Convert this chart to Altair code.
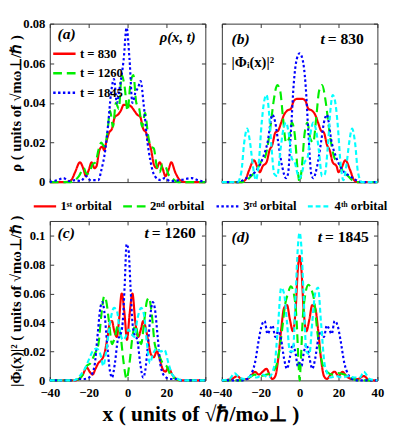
import altair as alt
import pandas as pd

FONT = "Liberation Serif"

# ---------------- panel (a): density rho(x,t) ----------------
a830_x = [-40, -32, -29, -27, -24.5, -22.5, -21.5, -20, -18.5, -17, -16, -14.5, -13, -12, -11, -9.5, -8, -6.5, -5, -3.5, -2, 0, 2, 3.5, 5, 6.5, 8, 9.5, 11, 12, 13.5, 15, 16.5, 18, 19.5, 21, 22.5, 24.5, 27, 30, 40]
a830_y = [0, 0, 0.001, 0.005, 0.010, 0.006, 0.003, 0.006, 0.010, 0.007, 0.008, 0.016, 0.018, 0.016, 0.020, 0.025, 0.027, 0.033, 0.034, 0.036, 0.039, 0.039, 0.038, 0.036, 0.034, 0.033, 0.027, 0.025, 0.020, 0.017, 0.009, 0.007, 0.010, 0.007, 0.003, 0.006, 0.010, 0.005, 0.001, 0, 0]
a1260_x = [-40, -30, -27, -25, -22.5, -21, -19.5, -18, -16.5, -15, -13.5, -12, -10.5, -9, -7.5, -6, -4.5, -3, -1.5, 0, 1.5, 3, 4.5, 6, 7.5, 9, 10.5, 12, 13.5, 15, 16.5, 18, 19.5, 21, 23, 26, 40]
a1260_y = [0, 0, 0.001, 0.003, 0.007, 0.004, 0.005, 0.009, 0.010, 0.016, 0.020, 0.018, 0.024, 0.036, 0.028, 0.040, 0.037, 0.054, 0.048, 0.036, 0.050, 0.054, 0.040, 0.037, 0.028, 0.035, 0.024, 0.018, 0.017, 0.008, 0.005, 0.009, 0.008, 0.004, 0.002, 0, 0]
a1845_x = [-40, -36, -33, -30, -27, -24, -21.5, -19, -15, -13.5, -11.5, -10, -8.5, -7, -5.5, -4, -2, -0.5, 1, 2.5, 4, 5.5, 6.7, 8.3, 10, 11.7, 14, 17, 19, 22, 27, 33, 36, 40]
a1845_y = [0, 0.001, 0.002, 0.0005, 0.001, 0.0005, 0.003, 0.001, 0.001, 0.006, 0.016, 0.029, 0.045, 0.052, 0.040, 0.048, 0.062, 0.078, 0.062, 0.040, 0.045, 0.048, 0.051, 0.039, 0.022, 0.011, 0.003, 0.001, 0.002, 0.0005, 0.001, 0.002, 0.001, 0]

# ---------------- panel (b): orbitals, t = 830 ----------------
b1_x = [-40, -30, -28, -26, -23.5, -21.5, -20.5, -19, -17, -15.5, -14, -12.5, -11, -9.5, -8, -6.5, -4.5, -3, -1.5, 0, 1.5, 3, 4.5, 6.5, 8, 9.5, 11, 12.5, 14, 15.5, 17, 19, 20, 21.5, 23.5, 26, 28, 30, 40]
b1_y = [0, 0, 0.001, 0.006, 0.011, 0.007, 0.005, 0.008, 0.010, 0.016, 0.019, 0.025, 0.026, 0.030, 0.034, 0.036, 0.037, 0.041, 0.042, 0.042, 0.042, 0.041, 0.037, 0.036, 0.034, 0.030, 0.026, 0.025, 0.019, 0.016, 0.010, 0.008, 0.005, 0.007, 0.011, 0.006, 0.001, 0, 0]
b2_x = [-40, -30, -27, -25, -22, -20, -18, -16.5, -15, -13.5, -11.5, -10, -8.5, -7, -5.5, -4, -2.5, -1, 0, 1, 2.5, 4, 5.5, 7, 8.5, 10, 11.5, 13.5, 15, 16.5, 18, 20, 22, 25, 27, 30, 40]
b2_y = [0, 0, 0.001, 0.003, 0.006, 0.010, 0.012, 0.018, 0.028, 0.040, 0.049, 0.046, 0.032, 0.020, 0.022, 0.030, 0.024, 0.006, 0, 0.006, 0.024, 0.030, 0.022, 0.020, 0.032, 0.046, 0.049, 0.040, 0.028, 0.018, 0.012, 0.010, 0.006, 0.003, 0.001, 0, 0]
b3_x = [-40, -32, -29, -26, -23, -19, -16.5, -14, -12.5, -11, -9, -7, -6, -4.5, -3, -1.5, 0, 1.5, 3, 4.5, 6, 7, 9, 11, 12.5, 14, 16.5, 19, 23, 26, 29, 32, 40]
b3_y = [0, 0, 0.001, 0.003, 0.005, 0.012, 0.020, 0.034, 0.030, 0.020, 0.008, 0.002, 0.004, 0.025, 0.050, 0.062, 0.065, 0.062, 0.050, 0.025, 0.004, 0.002, 0.008, 0.020, 0.030, 0.034, 0.020, 0.012, 0.005, 0.003, 0.001, 0, 0]
b4_x = [-40, -32, -30, -28.5, -27, -25.5, -24, -22.5, -21, -19.5, -18, -17, -16, -14.5, -13, -11.5, -10, -8.5, -7, -5.5, -4, -2.5, -1, 0, 1, 2.5, 4, 5.5, 7, 8.5, 10, 11.5, 13, 14.5, 16, 17, 18, 19.5, 21, 22.5, 24, 25.5, 27, 28.5, 30, 32, 40]
b4_y = [0, 0, 0.005, 0.020, 0.027, 0.020, 0.008, 0.001, 0.010, 0.030, 0.042, 0.044, 0.038, 0.018, 0.004, 0.003, 0.015, 0.026, 0.030, 0.024, 0.012, 0.010, 0.004, 0.002, 0.004, 0.010, 0.012, 0.024, 0.030, 0.026, 0.015, 0.003, 0.004, 0.018, 0.038, 0.044, 0.042, 0.030, 0.010, 0.001, 0.008, 0.020, 0.027, 0.020, 0.005, 0, 0]

# ---------------- panel (c): orbitals, t = 1260 ----------------
c1_x = [-40, -27, -25, -23, -21, -19.5, -18, -16.5, -15, -13.5, -12, -10.5, -9, -8, -7, -5.5, -4.5, -3, -1.5, -0.3, 1, 2.5, 4, 5.5, 7, 8, 9, 10.5, 12, 13.5, 15, 16.5, 18, 19.5, 21, 23, 25, 27, 40]
c1_y = [0, 0, 0.001, 0.004, 0.009, 0.006, 0.004, 0.008, 0.012, 0.014, 0.018, 0.028, 0.040, 0.041, 0.035, 0.030, 0.040, 0.060, 0.045, 0.028, 0.045, 0.060, 0.040, 0.030, 0.036, 0.041, 0.038, 0.028, 0.018, 0.016, 0.020, 0.015, 0.008, 0.006, 0.009, 0.004, 0.001, 0, 0]
c2_x = [-40, -28, -25, -23, -21, -19, -17, -15, -13.5, -12, -11, -9.5, -8, -6.5, -5, -3.5, -2, -0.5, 1, 2.5, 4, 5.5, 7, 8.5, 10, 11, 12.5, 14, 16, 18, 20, 22, 25, 28, 40]
c2_y = [0, 0, 0.001, 0.004, 0.010, 0.012, 0.018, 0.025, 0.045, 0.058, 0.055, 0.040, 0.025, 0.030, 0.038, 0.030, 0.012, 0.001, 0.012, 0.030, 0.038, 0.030, 0.025, 0.040, 0.055, 0.057, 0.045, 0.025, 0.018, 0.012, 0.010, 0.004, 0.001, 0, 0]
c3_x = [-40, -28, -25, -22, -19, -17, -15.5, -14, -13, -12, -10.5, -9, -8, -6.5, -5, -3.5, -2.5, -1.5, -0.5, 0.5, 1.5, 2.5, 3.5, 5, 6.5, 8, 9, 10.5, 12, 13, 14, 15.5, 17, 19, 22, 25, 28, 40]
c3_y = [0, 0, 0.001, 0.001, 0.003, 0.010, 0.030, 0.050, 0.054, 0.048, 0.025, 0.006, 0.002, 0.012, 0.028, 0.032, 0.040, 0.065, 0.094, 0.090, 0.065, 0.040, 0.032, 0.028, 0.012, 0.002, 0.006, 0.025, 0.048, 0.054, 0.050, 0.030, 0.010, 0.003, 0.001, 0.001, 0, 0]
c4_x = [-40, -28, -26, -24, -22, -20, -18, -16, -14, -12.5, -11, -9, -7, -5.5, -4, -2.5, -1, 0.5, 2, 3.5, 5, 7, 8.5, 10, 11.5, 13, 15, 17, 19, 21, 23, 26, 28, 40]
c4_y = [0, 0, 0.001, 0.004, 0.008, 0.014, 0.020, 0.022, 0.018, 0.010, 0.020, 0.040, 0.050, 0.048, 0.035, 0.028, 0.030, 0.035, 0.032, 0.030, 0.042, 0.050, 0.045, 0.025, 0.012, 0.018, 0.022, 0.020, 0.021, 0.012, 0.004, 0.001, 0, 0]

# ---------------- panel (d): orbitals, t = 1845 ----------------
d1_x = [-40, -35, -32, -30, -27, -25, -23, -21, -19, -17, -15.5, -14, -12.5, -11, -9.5, -8, -6.5, -5, -3.5, -2, -1, 0, 1, 2, 3.5, 5, 6.5, 8, 9.5, 11, 12.5, 14, 16, 18, 20, 22, 24, 27, 30, 33, 36, 40]
d1_y = [0, 0.001, 0.003, 0.001, 0.001, 0.003, 0.006, 0.004, 0.006, 0.008, 0.004, 0.001, 0.003, 0.015, 0.035, 0.050, 0.052, 0.042, 0.034, 0.050, 0.075, 0.086, 0.075, 0.050, 0.034, 0.042, 0.052, 0.050, 0.035, 0.015, 0.003, 0.001, 0.004, 0.006, 0.003, 0.006, 0.003, 0.001, 0.001, 0.003, 0, 0]
d2_x = [-40, -30, -26, -23, -20, -17, -14, -12, -10.5, -9, -7.5, -6, -4.5, -3, -1.5, -0.5, 0, 0.5, 1.5, 3, 4.5, 6, 7.5, 9, 10.5, 12, 14, 17, 20, 23, 26, 30, 40]
d2_y = [0, 0, 0.002, 0.004, 0.003, 0.004, 0.006, 0.010, 0.020, 0.035, 0.052, 0.060, 0.065, 0.060, 0.040, 0.010, 0, 0.010, 0.040, 0.060, 0.066, 0.063, 0.055, 0.035, 0.020, 0.010, 0.006, 0.004, 0.005, 0.004, 0.002, 0, 0]
d3_x = [-40, -30, -27, -25, -23, -21, -19.5, -18, -16.5, -15, -14, -12.5, -11, -9.5, -8, -6.5, -5, -3.5, -2, -1, 0, 1, 2, 3.5, 5, 6.5, 8, 9.5, 11, 12.5, 14, 15, 16.5, 18, 19.5, 21, 23, 25, 27, 30, 40]
d3_y = [0, 0, 0.001, 0.004, 0.012, 0.028, 0.038, 0.041, 0.032, 0.036, 0.038, 0.030, 0.034, 0.028, 0.015, 0.008, 0.016, 0.025, 0.018, 0.010, 0.012, 0.010, 0.018, 0.025, 0.016, 0.008, 0.015, 0.028, 0.034, 0.030, 0.038, 0.036, 0.032, 0.041, 0.038, 0.028, 0.012, 0.004, 0.001, 0, 0]
d4_x = [-40, -36, -33.5, -31, -28, -25, -22, -19, -16, -13, -11, -9.5, -8, -6.5, -5, -3.5, -2, -1, 0, 1, 2, 3.5, 5, 6.5, 8, 9.5, 11, 13, 16, 19, 22, 25, 28, 31, 33, 36, 40]
d4_y = [0, 0.001, 0.005, 0.002, 0.001, 0.003, 0.002, 0.004, 0.002, 0.010, 0.040, 0.064, 0.060, 0.040, 0.020, 0.020, 0.060, 0.090, 0.102, 0.090, 0.060, 0.020, 0.018, 0.040, 0.060, 0.064, 0.040, 0.010, 0.002, 0.003, 0.002, 0.003, 0.002, 0.002, 0.006, 0.001, 0]

# ---------------- categories / labels ----------------
times = ["t = 830", "t = 1260", "t = 1845"]
orbitals = ["1ˢᵗ orbital", "2ⁿᵈ orbital", "3ʳᵈ orbital", "4ᵗʰ orbital"]
colors = ["#ff0000", "#00ee00", "#0000ff", "#00ffff"]
dashes = [[1, 0], [9, 5], [2.5, 2.5], [5, 3]]
x_ticks = [-40, -20, 0, 20, 40]
y_ticks_top = [0, 0.02, 0.04, 0.06, 0.08]
y_ticks_bot = [0, 0.02, 0.04, 0.06, 0.08, 0.1]

TICK = 4          # inward tick length
FRAME = "#333333"


def frame(series):
    rows = []
    for name, xs, ys in series:
        assert len(xs) == len(ys), name
        for x, y in zip(xs, ys):
            rows.append({"x": x, "y": y, "s": name})
    return pd.DataFrame(rows)


df_a = frame([(times[0], a830_x, a830_y), (times[1], a1260_x, a1260_y), (times[2], a1845_x, a1845_y)])
df_b = frame(list(zip(orbitals, [b1_x, b2_x, b3_x, b4_x], [b1_y, b2_y, b3_y, b4_y])))
df_c = frame(list(zip(orbitals, [c1_x, c2_x, c3_x, c4_x], [c1_y, c2_y, c3_y, c4_y])))
df_d = frame(list(zip(orbitals, [d1_x, d2_x, d3_x, d4_x], [d1_y, d2_y, d3_y, d4_y])))


def txt(text, x, y, size=14, italic=False, align="left"):
    return alt.Chart(pd.DataFrame({"t": [text]})).mark_text(
        align=align, baseline="middle", font=FONT, fontSize=size,
        fontWeight="bold", fontStyle="italic" if italic else "normal", color="black"
    ).encode(x=alt.value(x), y=alt.value(y), text="t:N")


def panel(df, domain, ydom, yvals, h, show_x, show_y, legend, ytitle=None, xtitle=None):
    # main axes: bottom / left, ticks pointing inward (axis shifted into the plot by TICK)
    xaxis_kw = dict(orient="bottom", values=x_ticks, labels=show_x, ticks=True, tickSize=TICK,
                    tickColor=FRAME, tickWidth=1, offset=-TICK, domain=False, grid=False,
                    labelFont=FONT, labelFontSize=13, labelFontWeight="bold", labelColor="black",
                    labelPadding=7, labelFlush=False)
    if xtitle:
        xaxis_kw.update(titleX=155, titleY=34 + TICK, titleAlign="center", titleBaseline="middle",
                        titleFont=FONT, titleFontSize=22, titleFontWeight="bold", titleColor="black")
    yaxis_kw = dict(orient="left", values=yvals, labels=show_y, ticks=True, tickSize=TICK,
                    tickColor=FRAME, tickWidth=1, offset=-TICK, domain=False, grid=False,
                    labelExpr="format(datum.value, '~g')",
                    labelFont=FONT, labelFontSize=13, labelFontWeight="bold", labelColor="black",
                    labelPadding=5, labelFlush=False)
    if ytitle:
        yaxis_kw.update(titleX=-35 - TICK, titleY=h / 2, titleAngle=270, titleAlign="center",
                        titleBaseline="middle", titleFont=FONT, titleFontSize=15,
                        titleFontWeight="bold", titleColor="black")
    n = len(domain)
    cscale = alt.Scale(domain=domain, range=colors[:n])
    dscale = alt.Scale(domain=domain, range=dashes[:n])
    xscale = alt.Scale(domain=[-40, 40], nice=False)
    yscale = alt.Scale(domain=ydom, nice=False, zero=True)
    lines = alt.Chart(df).mark_line(strokeWidth=2.2, interpolate="monotone", clip=False).encode(
        x=alt.X("x:Q", scale=xscale, axis=alt.Axis(**xaxis_kw), title=xtitle if xtitle else None),
        y=alt.Y("y:Q", scale=yscale, axis=alt.Axis(**yaxis_kw), title=ytitle if ytitle else None),
        color=alt.Color("s:N", scale=cscale, legend=legend),
        strokeDash=alt.StrokeDash("s:N", scale=dscale, legend=legend),
    )
    # top / right tick-only axes (inward ticks on the other two sides of the box)
    tick_only = dict(labels=False, ticks=True, tickSize=TICK, tickColor=FRAME, tickWidth=1,
                     offset=-TICK, domain=False, grid=False)
    mirror = alt.Chart(df).mark_point(opacity=0).encode(
        x=alt.X("x:Q", scale=xscale, axis=alt.Axis(orient="top", values=x_ticks, **tick_only), title=None),
        y=alt.Y("y:Q", scale=yscale, axis=alt.Axis(orient="right", values=yvals, **tick_only), title=None),
    )
    return lines, mirror


legend_a = alt.Legend(orient="none", legendX=2, legendY=18, direction="vertical", title=None,
                      symbolType="stroke", symbolSize=529, symbolStrokeWidth=2.5,
                      labelFont=FONT, labelFontSize=13, labelFontWeight="bold", labelColor="black",
                      labelOffset=3, rowPadding=0, padding=0)
legend_c = alt.Legend(orient="none", legendX=-18, legendY=-28, direction="horizontal", title=None,
                      symbolType="stroke", symbolSize=529, symbolStrokeWidth=2.5,
                      labelFont=FONT, labelFontSize=13, labelFontWeight="bold", labelColor="black",
                      labelOffset=3, columnPadding=6, padding=0)

W = 160
HT = 163
HB = 164


def build(parts, texts, h):
    lines, mirror = parts
    return alt.layer(lines, mirror, *texts).resolve_axis(
        x="independent", y="independent"
    ).properties(width=W, height=h)


pa = build(
    panel(df_a, times, [0, 0.08], y_ticks_top, HT, False, True, legend_a,
          ytitle="ρ ( units of √mω⊥/ℏ )"),
    [txt("(a)", 8, 11, 16, italic=True),
     txt("ρ(x, t)", 150, 14, 15, italic=True, align="right")],
    HT,
)

pb = build(
    panel(df_b, orbitals, [0, 0.08], y_ticks_top, HT, False, False, None),
    [txt("(b)", 10, 16, 16, italic=True),
     txt("t", 106, 16, 16, italic=True, align="right"),
     txt("= 830", 109, 16, 16),
     txt("|Φᵢ(x)|²", 10, 40, 15)],
    HT,
)

pc = build(
    panel(df_c, orbitals, [0, 0.11], y_ticks_bot, HB, True, True, legend_c,
          ytitle="|Φᵢ(x)|² ( units of √mω⊥/ℏ )", xtitle="x ( units of √ℏ/mω⊥ )"),
    [txt("(c)", 8, 13, 16, italic=True),
     txt("t", 102, 13, 16, italic=True, align="right"),
     txt("= 1260", 105, 13, 16)],
    HB,
)

pd_ = build(
    panel(df_d, orbitals, [0, 0.11], y_ticks_bot, HB, True, False, None),
    [txt("(d)", 10, 17, 16, italic=True),
     txt("t", 103, 17, 16, italic=True, align="right"),
     txt("= 1845", 106, 17, 16)],
    HB,
)

chart = alt.concat(
    pa, pb, pc, pd_, columns=2, spacing={"row": 40, "column": 17}, bounds="flush"
).resolve_scale(
    color="independent", strokeDash="independent"
).properties(
    padding={"left": 0, "top": 3, "right": 2, "bottom": 2}
).configure_view(
    stroke=FRAME, strokeWidth=1
)

chart.save("out.html", embed_options={"renderer": "svg", "actions": False})
